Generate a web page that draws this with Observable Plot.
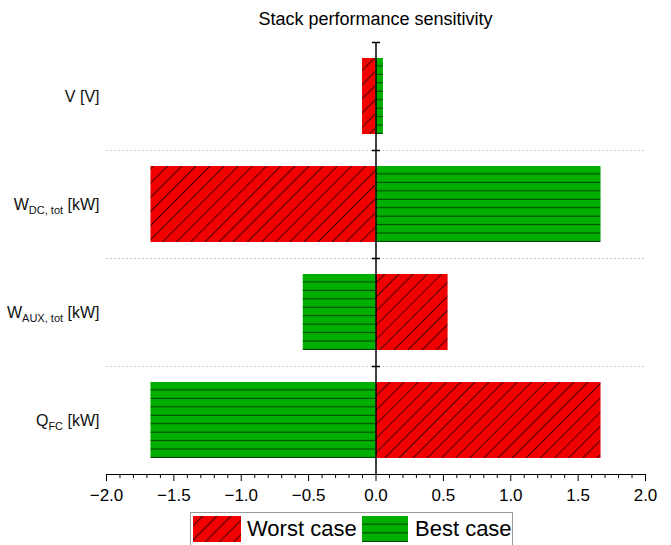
<!DOCTYPE html>
<html>
<head>
<meta charset="utf-8">
<script src="https://cdn.jsdelivr.net/npm/d3@7"></script>
<script src="https://cdn.jsdelivr.net/npm/@observablehq/plot@0.6"></script>
<style>
  body { margin: 0; background: #fff; font-family: "Liberation Sans", Arial, sans-serif; }
  #title { margin-left: 106px; width: 539px; height: 33px; padding-top: 3px; line-height: 33px; font-size: 18px; text-align: center; color: #000; }
  #chart svg { display: block; overflow: visible; }
  #legend { margin-left: 190px; width: 321px; height: 40px; border: 1px solid #9a9a9a; box-sizing: content-box; }
  #legend svg { display: block; }
</style>
</head>
<body>
<div id="title">Stack performance sensitivity</div>
<div id="chart"></div>
<div id="legend"></div>
<script>
// ---- data ----
const labelMain = ["V", "W", "W", "Q"];
const labelSub = ["", "DC, tot", "AUX, tot", "FC"];
const labelUnit = ["[V]", "[kW]", "[kW]", "[kW]"];
const worstCase = [-0.10, -1.67, 0.535, 1.67];
const bestCase = [0.055, 1.67, -0.54, -1.67];
const xTicks = [-2.0, -1.5, -1.0, -0.5, 0.0, 0.5, 1.0, 1.5, 2.0];
const xMinorTicks = d3.range(-20, 21).filter(k => k % 5 !== 0).map(k => k / 10);
const legendLabels = ["Worst case", "Best case"];

const RED = "#f00000", GREEN = "#00b000";
const idx = labelMain.map((_, i) => i);
const worstRows = idx.map(i => ({i, value: worstCase[i]}));
const bestRows = idx.map(i => ({i, value: bestCase[i]}));

const hline = {draw(ctx) { ctx.moveTo(-4, 0); ctx.lineTo(4, 0); }};

const svg = Plot.plot({
  width: 671,
  height: 476,
  marginLeft: 106,
  marginRight: 26,
  marginTop: 6,
  marginBottom: 38,
  style: {fontSize: "17px", fontFamily: "'Liberation Sans', Arial, sans-serif", color: "#000", background: "#fff", overflow: "visible"},
  x: {domain: [-2, 2], ticks: xTicks, tickFormat: d3.format(".1f"), tickSize: 7, tickPadding: 7, line: true, label: null},
  y: {domain: [0, 4], reverse: true, axis: null},
  marks: [
    Plot.ruleY([1, 2, 3], {stroke: "#c8c8c8", strokeDasharray: "2,2", strokeWidth: 1}),
    Plot.rectX(worstRows, {x1: 0, x2: "value", y1: d => d.i, y2: d => d.i + 1, insetTop: 16, insetBottom: 16, fill: "url(#hatchRed)"}),
    Plot.rectX(bestRows, {x1: 0, x2: "value", y1: d => d.i, y2: d => d.i + 1, insetTop: 16, insetBottom: 16, fill: "url(#hatchGreen)"}),
    Plot.ruleX(xMinorTicks, {y1: 4, y2: 4, insetTop: 0, insetBottom: -4, stroke: "#000", strokeWidth: 1}),
    Plot.ruleX([0], {y1: 0, y2: 4, stroke: "#000", strokeWidth: 1.5}),
    Plot.dot([0, 1, 2, 3], {x: 0, y: d => d, symbol: hline, r: 4, stroke: "#000", strokeWidth: 1.5, fill: "none"}),
    Plot.text(idx, {frameAnchor: "left", y: i => i + 0.5, text: i => labelMain[i] + labelSub[i] + " " + labelUnit[i],
      textAnchor: "end", dx: -7, fontSize: 16, fill: "#111"})
  ]
});

// patterns
const defs = d3.select(svg).insert("defs", ":first-child");
const pr = defs.append("pattern").attr("id", "hatchRed").attr("patternUnits", "userSpaceOnUse")
  .attr("width", 10).attr("height", 10).attr("patternTransform", "rotate(45)");
pr.append("rect").attr("width", 10).attr("height", 10).attr("fill", RED);
pr.append("line").attr("x1", 0.5).attr("y1", 0).attr("x2", 0.5).attr("y2", 10).attr("stroke", "#4a0000").attr("stroke-width", 1);
const pg = defs.append("pattern").attr("id", "hatchGreen").attr("patternUnits", "objectBoundingBox")
  .attr("patternContentUnits", "objectBoundingBox").attr("width", 1).attr("height", 1 / 9);
pg.append("rect").attr("width", 1).attr("height", 1 / 9).attr("fill", GREEN);
pg.append("rect").attr("x", 0).attr("y", 1 / 9 - 0.014).attr("width", 1).attr("height", 0.013).attr("fill", "#003a00");

// subscripts in y labels
d3.select(svg).selectAll('g[aria-label="text"] text').each(function(d, k) {
  const i = typeof d === "number" ? d : k;
  const t = d3.select(this);
  t.text(null);
  t.append("tspan").text(labelMain[i]);
  if (labelSub[i]) {
    t.append("tspan").attr("font-size", 11).attr("dy", 4).text(labelSub[i]);
    t.append("tspan").attr("dy", -4).text(" " + labelUnit[i]);
  } else {
    t.append("tspan").text(" " + labelUnit[i]);
  }
});

document.getElementById("chart").appendChild(svg);

// legend
const lg = d3.select("#legend").append("svg").attr("width", 321).attr("height", 40);
const ldefs = lg.append("defs");
const lr = ldefs.append("pattern").attr("id", "legRed").attr("patternUnits", "userSpaceOnUse")
  .attr("width", 10).attr("height", 10).attr("patternTransform", "rotate(45)");
lr.append("rect").attr("width", 10).attr("height", 10).attr("fill", RED);
lr.append("line").attr("x1", 0.5).attr("y1", 0).attr("x2", 0.5).attr("y2", 10).attr("stroke", "#4a0000").attr("stroke-width", 1);
const lgr = ldefs.append("pattern").attr("id", "legGreen").attr("patternUnits", "objectBoundingBox")
  .attr("patternContentUnits", "objectBoundingBox").attr("width", 1).attr("height", 1 / 3);
lgr.append("rect").attr("width", 1).attr("height", 1 / 3).attr("fill", GREEN);
lgr.append("rect").attr("x", 0).attr("y", 1 / 3 - 0.04).attr("width", 1).attr("height", 0.038).attr("fill", "#003a00");
const items = [
  {label: legendLabels[0], fill: "url(#legRed)", sx: 2, sw: 48, tx: 56},
  {label: legendLabels[1], fill: "url(#legGreen)", sx: 171, sw: 46, tx: 224}
];
items.forEach(it => {
  lg.append("rect").attr("x", it.sx).attr("y", 3).attr("width", it.sw).attr("height", 26).attr("fill", it.fill);
  lg.append("text").attr("x", it.tx).attr("y", 23).attr("font-size", 22)
    .attr("font-family", "'Liberation Sans', Arial, sans-serif").attr("fill", "#000").text(it.label);
});
</script>
</body>
</html>
